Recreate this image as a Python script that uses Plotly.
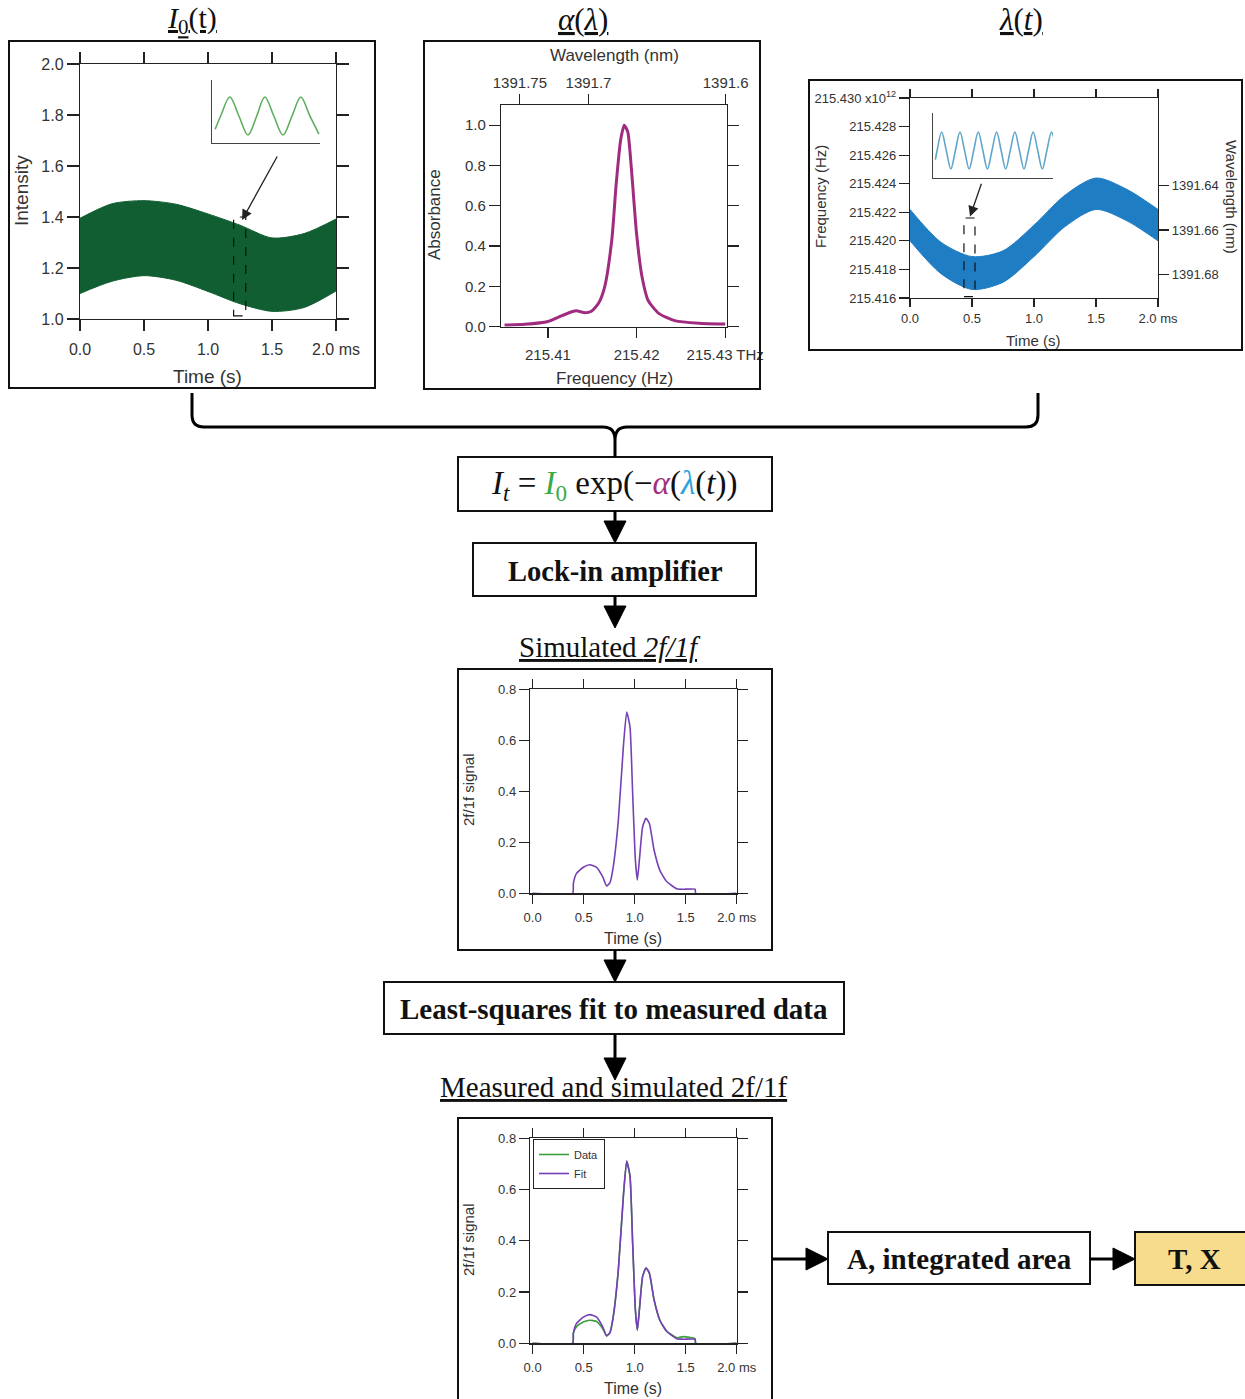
import plotly.graph_objects as go

W, H = 1245, 1399
def px(x): return x / W
def py(y): return 1 - y / H
def P(x, y): return f"{px(x):.5f},{py(y):.5f}"

C_LIGHT = 299792.458  # nm * THz

# ---------------- data ----------------
# I0(t) panel: envelope of the fast-modulated intensity band
i0_time = [0.0, 0.25, 0.5, 0.75, 1.0, 1.25, 1.5, 1.75, 2.0]
i0_upper = [1.395, 1.452, 1.464, 1.450, 1.412, 1.368, 1.318, 1.335, 1.392]
i0_lower = [1.100, 1.148, 1.170, 1.152, 1.108, 1.060, 1.030, 1.045, 1.110]
i0_yticks = [1.0, 1.2, 1.4, 1.6, 1.8, 2.0]
# I0 inset (zoomed modulation)
i0_inset_t = [0.09, 0.26, 0.51, 0.77, 1.03, 1.28, 1.51, 1.77, 2.03, 2.29, 2.54, 2.80, 3.06]
i0_inset_v = [-0.7, 0.05, 1.0, 0.0, -1.0, 0.0, 1.0, 0.0, -1.0, 0.0, 1.0, 0.0, -0.95]

time_ticks = [0.0, 0.5, 1.0, 1.5, 2.0]
time_ticktext = ["0.0", "0.5", "1.0", "1.5", "2.0 ms"]

# alpha(lambda) panel
abs_freq = [215.4051, 215.4074, 215.4100, 215.4112, 215.4127, 215.4132, 215.4142, 215.4149,
            215.4157, 215.4164, 215.4172, 215.4177, 215.4182, 215.4186, 215.4190, 215.4194,
            215.4200, 215.4206, 215.4213, 215.4225, 215.4243, 215.4270, 215.4300]
abs_val = [0.008, 0.012, 0.026, 0.048, 0.074, 0.079, 0.069, 0.077,
           0.116, 0.198, 0.43, 0.71, 0.926, 1.0, 0.967, 0.79,
           0.46, 0.25, 0.13, 0.066, 0.03, 0.017, 0.013]
abs_yticks = [0.0, 0.2, 0.4, 0.6, 0.8, 1.0]
freq_ticks = [215.41, 215.42, 215.43]
freq_ticktext = ["215.41", "215.42", "215.43 THz"]
wl_top_ticks = [1391.75, 1391.7, 1391.6]

# lambda(t) panel: envelope of the scanned frequency band (THz)
lam_time = [0.0, 0.25, 0.5, 0.75, 1.0, 1.25, 1.5, 1.75, 2.0]
lam_upper = [215.4222, 215.4199, 215.4189, 215.4193, 215.4211, 215.4232, 215.4244, 215.4236, 215.4222]
lam_lower = [215.4200, 215.4177, 215.4166, 215.4171, 215.4189, 215.4210, 215.4222, 215.4214, 215.4200]
lam_yticks = [215.416, 215.418, 215.420, 215.422, 215.424, 215.426, 215.428, 215.430]
lam_yticktext = ["215.416", "215.418", "215.420", "215.422", "215.424", "215.426", "215.428",
                 "215.430 x10<sup>12</sup>"]
wl_right_ticks = [1391.6, 1391.64, 1391.66, 1391.68]
# lambda inset
lam_inset_t = [0.13, 0.225, 0.475, 0.725, 0.975, 1.225, 1.475, 1.725, 1.975, 2.225, 2.475, 2.725,
               2.975, 3.225, 3.475, 3.725, 3.975, 4.225, 4.475, 4.725, 4.975, 5.225, 5.475, 5.725,
               5.975, 6.225, 6.475, 6.6]
lam_inset_v = [-0.5, 0, 1, 0, -1, 0, 1, 0, -1, 0, 1, 0,
               -1, 0, 1, 0, -1, 0, 1, 0, -1, 0, 1, 0,
               -1, 0, 1, 0.7]

# 2f/1f panels
sig_time = [0.0, 0.392, 0.399, 0.43, 0.497, 0.56, 0.627, 0.686, 0.725, 0.758, 0.79, 0.84, 0.889,
            0.922, 0.954, 0.98, 1.007, 1.026, 1.046, 1.078, 1.111, 1.144, 1.19, 1.248, 1.314,
            1.412, 1.477, 1.592, 1.598, 2.0]
sig_fit = [0.0, 0.0, 0.039, 0.078, 0.102, 0.112, 0.102, 0.065, 0.029, 0.042, 0.104, 0.287, 0.574,
           0.711, 0.653, 0.392, 0.13, 0.052, 0.13, 0.261, 0.294, 0.274, 0.17, 0.089, 0.046,
           0.018, 0.016, 0.016, 0.0, 0.0]
sig_data = [0.0, 0.0, 0.040, 0.065, 0.083, 0.090, 0.085, 0.058, 0.029, 0.042, 0.104, 0.287, 0.574,
            0.711, 0.653, 0.392, 0.13, 0.052, 0.13, 0.261, 0.294, 0.274, 0.17, 0.089, 0.048,
            0.022, 0.026, 0.018, 0.0, 0.0]
sig_yticks = [0.0, 0.2, 0.4, 0.6, 0.8]

# ---------------- styles ----------------
SANS = "Liberation Sans, Arial, sans-serif"
SERIF = "Liberation Serif, Times New Roman, serif"
AXC = "#222222"
TXT = "#333333"
GREEN_BAND = "#115E32"
GREEN_INSET = "#5FAE5F"
MAGENTA = "#A02C80"
BLUE_BAND = "#1F7DC3"
BLUE_INSET = "#62A6C9"
PURPLE = "#7440B4"
GREEN_DATA = "#3E9E3E"

fig = go.Figure()
def line_trace(x, y, xa, ya, color, width, name=None, legend=False, **kw):
    return go.Scatter(x=x, y=y, xaxis=xa, yaxis=ya, mode="lines", name=name,
                      line=dict(color=color, width=width, shape="spline", smoothing=kw.pop("smoothing", 0.8)),
                      showlegend=legend, hoverinfo="skip", **kw)

# A: I0(t)
fig.add_trace(line_trace(i0_time, i0_lower, "x", "y", GREEN_BAND, 1))
fig.add_trace(line_trace(i0_time, i0_upper, "x", "y", GREEN_BAND, 1, fill="tonexty", fillcolor=GREEN_BAND))
fig.add_trace(line_trace(i0_inset_t, i0_inset_v, "x2", "y2", GREEN_INSET, 1.6, smoothing=1.0))
# B: alpha
fig.add_trace(line_trace(abs_freq, abs_val, "x3", "y3", MAGENTA, 3, smoothing=0.6))
fig.add_trace(go.Scatter(x=abs_freq, y=abs_val, xaxis="x4", yaxis="y3", mode="lines",
                         line=dict(width=0), opacity=0, showlegend=False, hoverinfo="skip"))
# C: lambda(t)
fig.add_trace(line_trace(lam_time, lam_lower, "x5", "y5", BLUE_BAND, 1))
fig.add_trace(line_trace(lam_time, lam_upper, "x5", "y5", BLUE_BAND, 1, fill="tonexty", fillcolor=BLUE_BAND))
fig.add_trace(go.Scatter(x=lam_time, y=lam_upper, xaxis="x5", yaxis="y6", mode="lines",
                         line=dict(width=0), opacity=0, showlegend=False, hoverinfo="skip"))
fig.add_trace(line_trace(lam_inset_t, lam_inset_v, "x6", "y7", BLUE_INSET, 1.6, smoothing=1.0))
# D: simulated 2f/1f
fig.add_trace(line_trace(sig_time, sig_fit, "x7", "y8", PURPLE, 1.6, smoothing=0.5))
# E: measured + fit
fig.add_trace(line_trace(sig_time, sig_data, "x8", "y9", GREEN_DATA, 1.6, name="Data", legend=True, smoothing=0.5))
fig.add_trace(line_trace(sig_time, sig_fit, "x8", "y9", PURPLE, 1.6, name="Fit", legend=True, smoothing=0.5))


def axis(domain, rng, size=15, ticklen=10, **kw):
    d = dict(domain=domain, range=rng, autorange=False, showline=True, linecolor=AXC, linewidth=1.2,
             ticks="outside", ticklen=ticklen, tickwidth=1.2, tickcolor=AXC, showgrid=False,
             zeroline=False, tickfont=dict(family=SANS, size=size, color=TXT), fixedrange=True,
             automargin=False)
    d.update(kw)
    return d

def inset_axis(domain, rng, anchor):
    return dict(domain=domain, range=rng, autorange=False, showline=True, linecolor="#444",
                linewidth=1.3, ticks="", showticklabels=False, showgrid=False, zeroline=False,
                mirror=False, anchor=anchor, fixedrange=True, automargin=False)

fmt1 = lambda vals: [f"{v:.1f}" for v in vals]

layout_axes = dict(
    xaxis=axis([px(80), px(336)], [0, 2], size=16, ticklen=11, anchor="y", mirror="ticks",
               tickvals=time_ticks, ticktext=time_ticktext, ticklabelstandoff=5),
    yaxis=axis([py(319), py(64)], [1, 2], size=16, ticklen=12, anchor="x", mirror="ticks",
               tickvals=i0_yticks, ticktext=fmt1(i0_yticks)),
    xaxis2=inset_axis([px(212), px(320)], [0, 3.09], "y2"),
    yaxis2=inset_axis([py(143), py(80)], [-1.42, 1.89], "x2"),
    xaxis3=axis([px(501), px(727)], [215.4047, 215.4302], size=15, ticklen=10, anchor="y3",
                mirror=False, tickvals=freq_ticks, ticktext=freq_ticktext, ticklabelstandoff=4),
    xaxis4=axis([px(501), px(727)], [215.4047, 215.4302], size=15, ticklen=10, anchor="y3",
                overlaying="x3", side="top", mirror=False,
                tickvals=[C_LIGHT / w for w in wl_top_ticks], ticktext=[str(w) for w in wl_top_ticks]),
    yaxis3=axis([py(326.7), py(105)], [0, 1.1], size=15, ticklen=11, anchor="x3", mirror="ticks",
                tickvals=abs_yticks, ticktext=fmt1(abs_yticks)),
    xaxis5=axis([px(910), px(1158)], [0, 2], size=13, ticklen=8, anchor="y5", mirror="ticks",
                tickvals=time_ticks, ticktext=time_ticktext),
    yaxis5=axis([py(298), py(98)], [215.416, 215.430], size=13, ticklen=10, anchor="x5",
                mirror=False, tickvals=lam_yticks, ticktext=lam_yticktext),
    yaxis6=axis([py(298), py(98)], [215.416, 215.430], size=13, ticklen=10, anchor="x5",
                overlaying="y5", side="right", mirror=False,
                tickvals=[C_LIGHT / w for w in wl_right_ticks], ticktext=[str(w) for w in wl_right_ticks]),
    xaxis6=inset_axis([px(933), px(1053)], [0, 6.56], "y7"),
    yaxis7=inset_axis([py(178), py(113)], [-1.49, 2.03], "x6"),
    xaxis7=axis([px(530), px(736.7)], [-0.026, 2.0], size=13, ticklen=9, anchor="y8", mirror="ticks",
                tickvals=time_ticks, ticktext=time_ticktext, ticklabelstandoff=3),
    yaxis8=axis([py(893.3), py(689.3)], [0, 0.8], size=13, ticklen=10, anchor="x7", mirror="ticks",
                tickvals=sig_yticks, ticktext=fmt1(sig_yticks)),
    xaxis8=axis([px(530), px(736.7)], [-0.026, 2.0], size=13, ticklen=9, anchor="y9", mirror="ticks",
                tickvals=time_ticks, ticktext=time_ticktext, ticklabelstandoff=3),
    yaxis9=axis([py(1343.3), py(1138.3)], [0, 0.8], size=13, ticklen=10, anchor="x8", mirror="ticks",
                tickvals=sig_yticks, ticktext=fmt1(sig_yticks)),
)

# ---------------- shapes ----------------
shapes = []
def rect(x0, y0, x1, y1, width=2, fill=None):
    shapes.append(dict(type="rect", xref="paper", yref="paper", x0=px(x0), x1=px(x1), y0=py(y1), y1=py(y0),
                       line=dict(color="#111", width=width), fillcolor=fill or "rgba(0,0,0,0)", layer="above"))

def seg(x0, y0, x1, y1, width=3):
    shapes.append(dict(type="line", xref="paper", yref="paper", x0=px(x0), x1=px(x1), y0=py(y0), y1=py(y1),
                       line=dict(color="#000", width=width)))

def tri(path):
    shapes.append(dict(type="path", xref="paper", yref="paper", path=path, fillcolor="#000",
                       line=dict(color="#000", width=1)))

def varrow(x, y0, y1, hw=11, hl=22):
    seg(x, y0, x, y1 - hl + 2)
    tri(f"M {P(x - hw, y1 - hl)} L {P(x + hw, y1 - hl)} L {P(x, y1)} Z")

def harrow(y, x0, x1, hw=11, hl=22):
    seg(x0, y, x1 - hl + 2, y)
    tri(f"M {P(x1 - hl, y - hw)} L {P(x1 - hl, y + hw)} L {P(x1, y)} Z")

# panel frames
rect(9, 41, 375, 388)
rect(424, 41, 760, 389)
rect(809, 80, 1242, 350)
rect(458, 669, 772, 950)
rect(458, 1118, 772, 1410)
# flowchart boxes
rect(458, 457, 772, 511)
rect(473, 543, 756, 596)
rect(384, 982, 844, 1034)
rect(828, 1232, 1090, 1284)
rect(1135, 1232, 1250, 1285, fill="#F7DC8E")

# brace
brace = (f"M {P(192,393)} L {P(192,415)} Q {P(192,427)} {P(204,427)} L {P(603,427)} "
         f"Q {P(615,427)} {P(615,440)} L {P(615,457)} "
         f"M {P(615,440)} Q {P(615,427)} {P(627,427)} L {P(1026,427)} "
         f"Q {P(1038,427)} {P(1038,415)} L {P(1038,393)}")
shapes.append(dict(type="path", xref="paper", yref="paper", path=brace, line=dict(color="#000", width=3)))

varrow(615, 511, 543)
varrow(615, 596, 628)
varrow(615, 950, 982)
varrow(615, 1034, 1080)
harrow(1259, 772, 828)
harrow(1259, 1090, 1135)

# dashed zoom boxes
shapes.append(dict(type="rect", xref="x", yref="y", x0=1.2, x1=1.295, y0=1.012, y1=1.40,
                   line=dict(color="#111", width=1.2, dash="dash")))
shapes.append(dict(type="rect", xref="x5", yref="y5", x0=0.435, x1=0.524, y0=215.4161, y1=215.4216,
                   line=dict(color="#111", width=1.2, dash="dash")))

# ---------------- annotations ----------------
ann = []
def text(x, y, s, size, family=SANS, color=TXT, angle=0, **kw):
    ann.append(dict(x=px(x), y=py(y), xref="paper", yref="paper", text=s, showarrow=False,
                    xanchor="center", yanchor="middle",
                    font=dict(family=family, size=size, color=color), textangle=angle, **kw))

# panel titles
text(192, 20, "<u><i>I</i><sub>0</sub>(t)</u>", 30, SERIF, "#111")
text(583, 20, "<u><i>α</i>(<i>λ</i>)</u>", 31, SERIF, "#111")
text(1021, 20, "<u><i>λ</i>(<i>t</i>)</u>", 31, SERIF, "#111")

# axis titles
text(22, 190, "Intensity", 19, angle=-90)
text(207, 376, "Time (s)", 19)
text(614, 55, "Wavelength (nm)", 17)
text(435, 215, "Absorbance", 17, angle=-90)
text(614, 379, "Frequency (Hz)", 17)
text(820, 197, "Frequency (Hz)", 15, angle=-90)
text(1232, 197, "Wavelength (nm)", 15, angle=90)
text(1033, 340, "Time (s)", 15)
text(468, 790, "2f/1f signal", 15, angle=-90)
text(633, 938, "Time (s)", 16)
text(468, 1240, "2f/1f signal", 15, angle=-90)
text(633, 1388, "Time (s)", 16)

# flowchart text
formula = ("<i>I<sub>t</sub></i> = <span style='color:#3BAA48'><i>I</i><sub>0</sub></span> exp(−"
           "<span style='color:#A3307F'><i>α</i></span>(<span style='color:#27A3DF'><i>λ</i></span>(<i>t</i>))")
text(614, 485, formula, 33, SERIF, "#111")
text(615, 571, "<b>Lock-in amplifier</b>", 28.5, SERIF, "#111")
text(610, 647, "<u>Simulated <i>2f/1f</i></u>", 29, SERIF, "#111")
text(614, 1009, "<b>Least-squares fit to measured data</b>", 29, SERIF, "#111")
text(613, 1087, "<u>Measured and simulated 2f/1f</u>", 29, SERIF, "#111")
text(959, 1259, "<b>A, integrated area</b>", 29, SERIF, "#111")
text(1194, 1259, "<b>T, X</b>", 29, SERIF, "#111")

# zoom arrows inside panels
ann.append(dict(x=1.266, y=1.388, xref="x", yref="y", ax=1.547, ay=1.643, axref="x", ayref="y",
                text="", showarrow=True, arrowhead=2, arrowsize=1.6, arrowwidth=1.3, arrowcolor="#222"))
ann.append(dict(x=0.484, y=215.4217, xref="x5", yref="y5", ax=0.58, ay=215.4241, axref="x5", ayref="y5",
                text="", showarrow=True, arrowhead=2, arrowsize=1.6, arrowwidth=1.3, arrowcolor="#222"))

fig.update_layout(
    width=W, height=H, margin=dict(l=0, r=0, t=0, b=0, pad=0, autoexpand=False),
    paper_bgcolor="white", plot_bgcolor="rgba(0,0,0,0)",
    shapes=shapes, annotations=ann,
    legend=dict(x=px(533), y=py(1139), xanchor="left", yanchor="top", bgcolor="white",
                bordercolor="#222", borderwidth=1, font=dict(family=SANS, size=11, color=TXT),
                tracegroupgap=0, itemwidth=30, traceorder="normal"),
    **layout_axes,
)

fig.write_html("out.html", config={"displayModeBar": False, "staticPlot": True},
               post_script="document.body.style.margin='0px';document.body.style.overflow='hidden';")
